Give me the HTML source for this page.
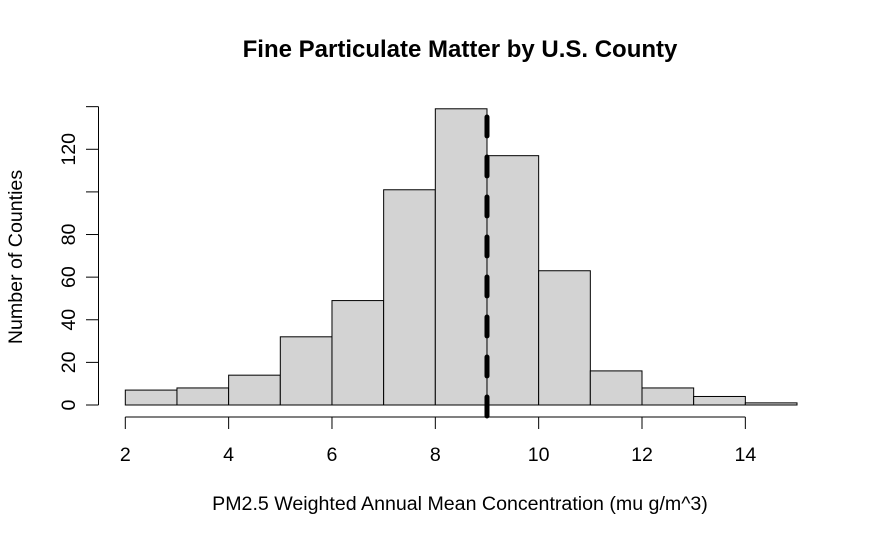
<!DOCTYPE html>
<html><head><meta charset="utf-8"><style>
body{margin:0;background:#fff;}
svg{display:block;font-family:"Liberation Sans",Arial,sans-serif;}
</style></head><body>
<svg id="chart" width="874" height="539" viewBox="0 0 874 539">
<rect width="874" height="539" fill="#fff"/>
<text x="460" y="57" text-anchor="middle" font-size="24" font-weight="bold">Fine Particulate Matter by U.S. County</text>
<text x="460" y="510" text-anchor="middle" font-size="19.6">PM2.5 Weighted Annual Mean Concentration (mu g/m^3)</text>
<text transform="translate(22,257) rotate(-90)" text-anchor="middle" font-size="19.6">Number of Counties</text>
<g id="bars"></g><g id="xaxis"></g><g id="yaxis"></g><g id="ref"></g>
</svg>
<script>
const binStarts=[2,3,4,5,6,7,8,9,10,11,12,13,14];
const counts=[7,8,14,32,49,101,139,117,63,16,8,4,1];
const xTicks=[2,4,6,8,10,12,14];
const yTicks=[0,20,40,60,80,100,120,140];
const yLabels=["0","20","40","60","80","","120",""];
const meanLine=9;
const NS="http://www.w3.org/2000/svg";
const xs=v=>125.3+(v-2)*51.67;
const ys=v=>405-v*2.131;
function mk(t,a,p){const e=document.createElementNS(NS,t);for(const k in a)e.setAttribute(k,a[k]);p.appendChild(e);return e;}
const bars=document.getElementById('bars');
binStarts.forEach((b,i)=>{
 const r=mk('rect',{x:xs(b),y:ys(counts[i]),width:xs(b+1)-xs(b),height:ys(0)-ys(counts[i]),fill:'#d3d3d3',stroke:'#000','stroke-width':1},bars);
 
 
});
const xa=document.getElementById('xaxis');
const xl=mk('line',{x1:xs(xTicks[0]),x2:xs(xTicks[xTicks.length-1]),y1:417,y2:417,stroke:'#000'},xa);


xTicks.forEach(t=>{
 mk('line',{x1:xs(t),x2:xs(t),y1:417,y2:429,stroke:'#000'},xa);
 const tx=mk('text',{x:xs(t),y:461,'text-anchor':'middle','font-size':19.6},xa);
 tx.textContent=t;
 
 
});
const ya=document.getElementById('yaxis');
const yl=mk('line',{x1:98.5,x2:98.5,y1:ys(0),y2:ys(140),stroke:'#000'},ya);


yTicks.forEach((t,i)=>{
 mk('line',{x1:86,x2:98.5,y1:ys(t),y2:ys(t),stroke:'#000'},ya);
 if(yLabels[i]){
  const tx=mk('text',{transform:`translate(75,${ys(t)}) rotate(-90)`,'text-anchor':'middle','font-size':19.6},ya);
  tx.textContent=yLabels[i];
  
  
 }
});
const ml=mk('line',{x1:xs(meanLine),x2:xs(meanLine),y1:117,y2:416,stroke:'#000','stroke-width':5,'stroke-dasharray':'19 21','stroke-linecap':'round'},document.getElementById('ref'));


</script>
</body></html>
